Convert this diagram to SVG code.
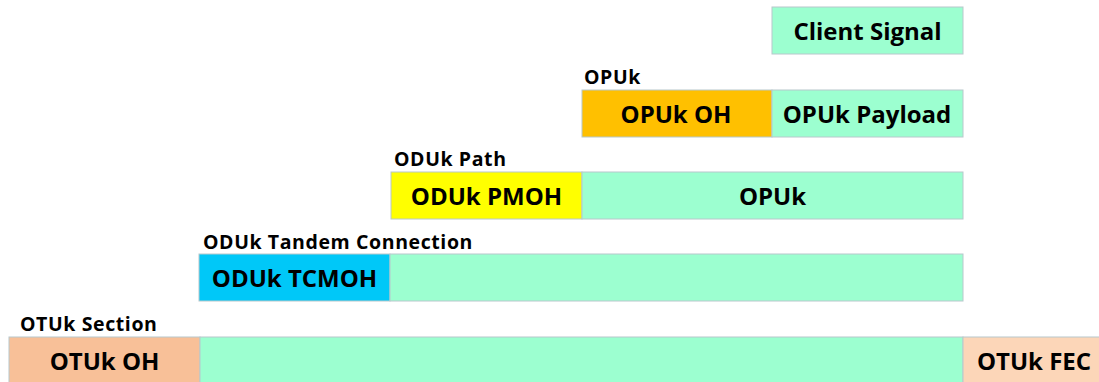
<svg xmlns="http://www.w3.org/2000/svg" width="1099" height="382" viewBox="0 0 1099 382">
<style>
.b{stroke:#b8c8cc;stroke-width:1}
.m{fill:#9cffd0}
.t{font-family:"Open Sans","Liberation Sans",sans-serif;font-weight:bold;fill:#000;text-anchor:middle}
.bl{font-size:24px}
.h{font-size:19.5px;text-anchor:start;letter-spacing:0.6px}
</style>
<rect width="1099" height="382" fill="#fff"/>
<g id="client-signal"><rect class="b m" x="772" y="7" width="191" height="47"/><text class="t bl" x="867.5" y="39.5">Client Signal</text></g>
<g id="opuk">
<text class="t h" x="584" y="84">OPUk</text>
<rect class="b" x="582" y="90" width="190" height="47" fill="#ffc000"/><text class="t bl" x="676" y="122.5">OPUk OH</text>
<rect class="b m" x="772" y="90" width="191" height="47"/><text class="t bl" x="867" y="122.5">OPUk Payload</text>
</g>
<g id="oduk-path">
<text class="t h" x="394" y="166">ODUk Path</text>
<rect class="b" x="391" y="172" width="191" height="47" fill="#ffff00"/><text class="t bl" x="486.5" y="204.5">ODUk PMOH</text>
<rect class="b m" x="582" y="172" width="381" height="47"/><text class="t bl" x="772.5" y="204.5">OPUk</text>
</g>
<g id="oduk-tc">
<text class="t h" x="203" y="249">ODUk Tandem Connection</text>
<rect class="b" x="199" y="254" width="191" height="47" fill="#00c8f8"/><text class="t bl" x="294.5" y="286.5">ODUk TCMOH</text>
<rect class="b m" x="390" y="254" width="573" height="47"/>
</g>
<g id="otuk">
<text class="t h" x="20" y="331">OTUk Section</text>
<rect class="b" x="9" y="337" width="191" height="50" fill="#f8c098"/><text class="t bl" x="104.5" y="370">OTUk OH</text>
<rect class="b m" x="200" y="337" width="763" height="50"/>
<rect class="b" x="963" y="337" width="140" height="50" fill="#fcd6b8"/><text class="t bl" x="1034" y="370">OTUk FEC</text>
</g>
<g id="connectors"/>
</svg>
